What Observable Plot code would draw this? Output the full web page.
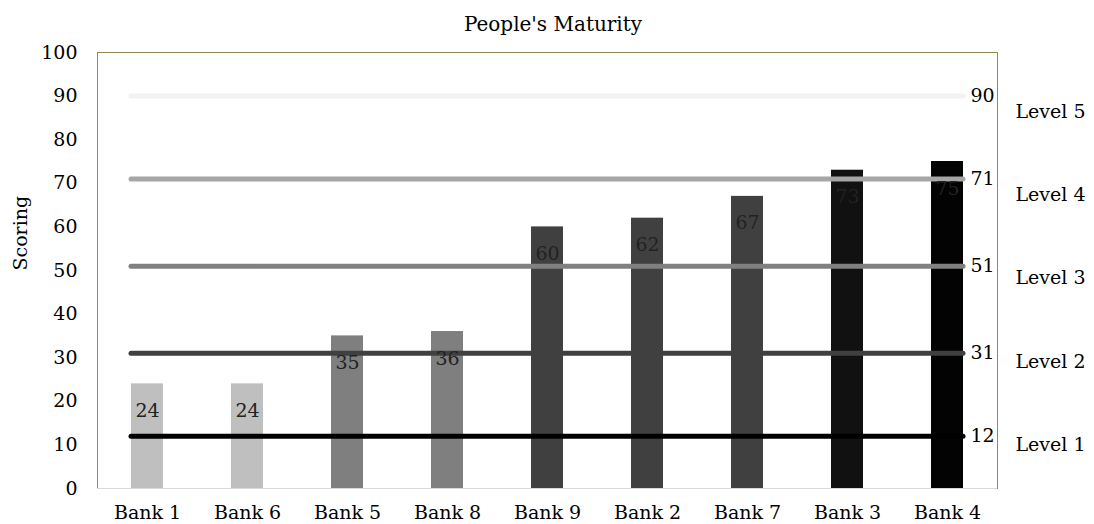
<!DOCTYPE html>
<html><head><meta charset="utf-8">
<script src="https://cdn.jsdelivr.net/npm/d3@7"></script>
<script src="https://cdn.jsdelivr.net/npm/@observablehq/plot@0.6"></script>
<style>
body{margin:0;background:#fff;overflow:hidden}
#title{height:40px;box-sizing:border-box;padding-top:12px;padding-left:12px;line-height:23px;text-align:center;font:20px "DejaVu Serif";color:#000;}
</style></head><body>
<div id="title">People's Maturity</div>
<div id="chart"></div>
<script>
const banks = ["Bank 1","Bank 6","Bank 5","Bank 8","Bank 9","Bank 2","Bank 7","Bank 3","Bank 4"];
const scores = [24,24,35,36,60,62,67,73,75];
const barColors = ["#bfbfbf","#bfbfbf","#7f7f7f","#7f7f7f","#404040","#404040","#404040","#111111","#030303"];
const levelValues = [12,31,51,71,90];
const levelNames = ["Level 1","Level 2","Level 3","Level 4","Level 5"];
const levelColors = ["#000000","#404040","#808080","#a6a6a6","#f2f2f2"];
const yTicks = [0,10,20,30,40,50,60,70,80,90,100];

const bars = banks.map((b,i)=>({bank:b, score:scores[i], color:barColors[i]}));
const levels = levelValues.map((v,i)=>({value:v, name:levelNames[i], color:levelColors[i], i}));
const first = banks[0], last = banks[banks.length-1];

const chart = Plot.plot({
  width:1094, height:484, marginTop:12, marginBottom:36, marginLeft:97, marginRight:97,
  style:{fontFamily:"DejaVu Serif", fontSize:"19px", color:"#000", background:"#fff"},
  x:{domain:banks, paddingInner:0.68, paddingOuter:0.34, label:null, tickSize:0, tickPadding:17},
  y:{domain:[0,100], ticks:yTicks, label:null, tickSize:0, tickPadding:20},
  color:{type:"identity"},
  marks:[
    Plot.barY(bars,{x:"bank", y:"score", fill:"color"}),
    Plot.ruleY(levels,{y:"value", x1:()=>first, x2:()=>last, stroke:"color", strokeWidth:5, strokeLinecap:"round"}),
    Plot.text(bars,{x:"bank", y:"score", text:d=>String(d.score), dy:27, fill:"#222"}),
    Plot.text(levels,{x:()=>last, y:"value", text:d=>String(d.value), dx:23, textAnchor:"start", fill:"#000"}),
    Plot.text(levels,{frameAnchor:"right", y:d=>10+d.i*19.1, text:"name", dx:53, textAnchor:"middle", fill:"#000"}),
    Plot.text(["Scoring"],{frameAnchor:"left", dx:-77, rotate:-90, fill:"#000"}),
    Plot.frame({stroke:"#948a54"}),
    Plot.ruleY([0],{stroke:"#d9d9d9"})
  ]
});
document.getElementById("chart").appendChild(chart);
</script>
</body></html>
